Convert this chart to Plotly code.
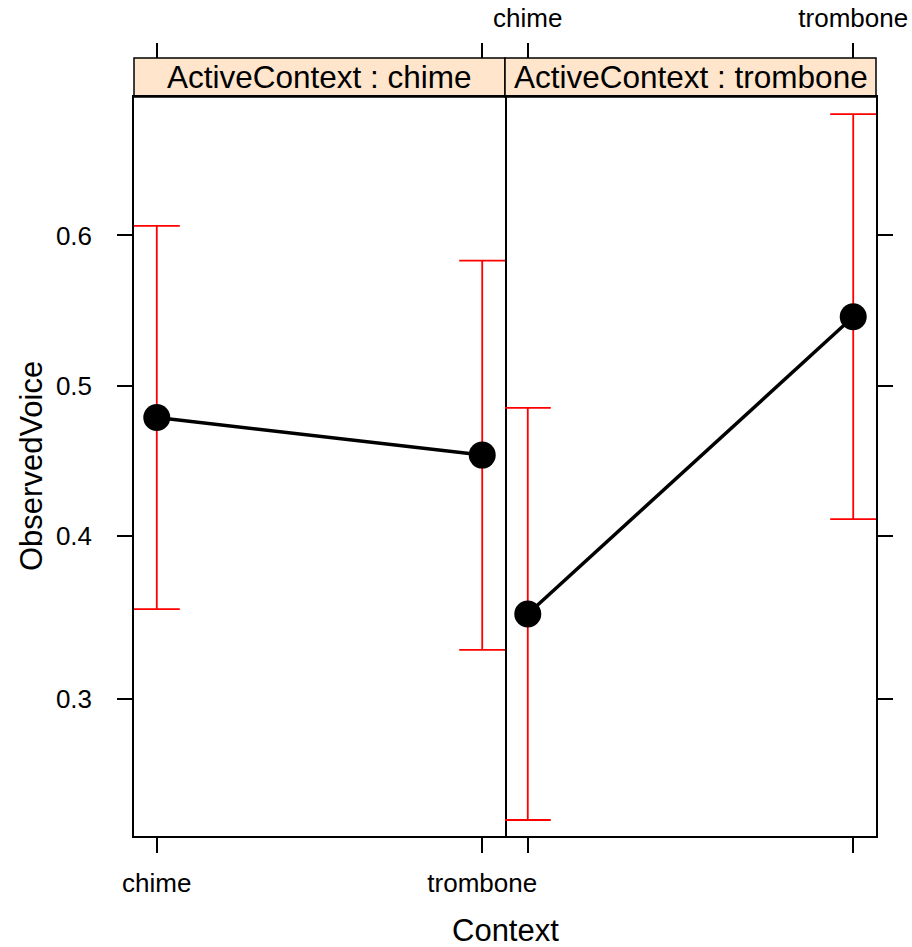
import numpy as np
import plotly.graph_objects as go

# Effect of Context on ObservedVoice, split by ActiveContext (fitted probabilities with 95% CIs)
contexts = ["chime", "trombone"]
active_levels = ["chime", "trombone"]

fit = {
    "chime":    [0.4785, 0.4532],
    "trombone": [0.3505, 0.5463],
}
lower = {
    "chime":    [0.3535, 0.3288],
    "trombone": [0.2363, 0.4108],
}
upper = {
    "chime":    [0.6062, 0.5835],
    "trombone": [0.4850, 0.6755],
}

y_ticks = [0.3, 0.4, 0.5, 0.6]
y_limits = [0.2286, 0.6855]


def logit(p):
    p = np.asarray(p, dtype=float)
    return np.log(p / (1 - p))


x_pos = [1, 2]
x_range = [1 - 0.07, 2 + 0.07]

FONT = "Liberation Sans, Arial, Helvetica, sans-serif"

fig = go.Figure()

for i, level in enumerate(active_levels):
    xa = "x" if i == 0 else "x2"
    ya = "y" if i == 0 else "y2"
    f = logit(fit[level])
    lo = logit(lower[level])
    hi = logit(upper[level])
    fig.add_trace(go.Scatter(
        x=x_pos, y=f, xaxis=xa, yaxis=ya,
        mode="lines+markers",
        line=dict(color="black", width=3.5),
        marker=dict(color="black", size=27),
        error_y=dict(type="data", symmetric=False,
                     array=hi - f, arrayminus=f - lo,
                     color="#FF0000", thickness=1.8, width=23),
        showlegend=False, hoverinfo="skip",
    ))

# empty traces to host the top tick axes
fig.add_trace(go.Scatter(x=[], y=[], xaxis="x3", yaxis="y", showlegend=False, hoverinfo="skip"))
fig.add_trace(go.Scatter(x=[], y=[], xaxis="x4", yaxis="y2", showlegend=False, hoverinfo="skip"))

ML, MR, MT, MB = 134, 36, 58, 111
W, H = 912, 947
ph = H - MT - MB
pw = W - ML - MR
ytop = (H - MB - 97) / ph

tick_common = dict(ticks="outside", ticklen=15, tickwidth=1.5, tickcolor="black",
                   showgrid=False, zeroline=False, automargin=False,
                   tickfont=dict(family=FONT, size=26, color="black"))

yv = logit(y_ticks).tolist()
ylim = logit(y_limits).tolist()

xcommon = dict(range=x_range, tickvals=x_pos, ticktext=contexts,
               showline=True, mirror=True, linecolor="black", linewidth=1.5, **tick_common)

fig.update_layout(
    width=W, height=H,
    margin=dict(l=ML, r=MR, t=MT, b=MB, pad=0, autoexpand=False),
    paper_bgcolor="white", plot_bgcolor="white",
    font=dict(family=FONT, color="black"),
    xaxis=dict(domain=[0, 0.5], anchor="y", side="bottom", showticklabels=True,
               ticklabelstandoff=8, **xcommon),
    xaxis2=dict(domain=[0.5, 1], anchor="y2", side="bottom", showticklabels=False, **xcommon),
    xaxis3=dict(overlaying="x", anchor="free", position=1, side="top",
                range=x_range, tickvals=x_pos, ticktext=contexts,
                showline=False, showticklabels=False, **tick_common),
    xaxis4=dict(overlaying="x2", anchor="free", position=1, side="top",
                range=x_range, tickvals=x_pos, ticktext=contexts,
                showline=False, showticklabels=True, ticklabelstandoff=6, **tick_common),
    yaxis=dict(domain=[0, ytop], anchor="x", side="left", range=ylim,
               tickvals=yv, ticktext=[str(v) for v in y_ticks],
               showline=True, mirror=True, linecolor="black", linewidth=1.5,
               ticklabelstandoff=20, **tick_common),
    yaxis2=dict(domain=[0, ytop], anchor="x2", side="right", range=ylim,
                tickvals=yv, ticktext=[str(v) for v in y_ticks], showticklabels=False,
                showline=True, mirror=False, linecolor="black", linewidth=1.5,
                **tick_common),
)

# strip labels above each panel
for i, level in enumerate(active_levels):
    x0, x1 = (0, 0.5) if i == 0 else (0.5, 1)
    fig.add_shape(type="rect", xref="paper", yref="paper",
                  x0=x0, x1=x1, y0=ytop, y1=1,
                  fillcolor="#FFE5CC", line=dict(color="black", width=1.5), layer="below")
    fig.add_annotation(xref="paper", yref="paper", x=(x0 + x1) / 2, y=(ytop + 1) / 2,
                       text=f"ActiveContext : {level}", showarrow=False,
                       xanchor="center", yanchor="middle",
                       font=dict(family=FONT, size=31.5, color="black"))

# axis titles
fig.add_annotation(xref="paper", yref="paper", x=0.5, y=(H - MB - 930) / ph,
                   text="Context", showarrow=False, xanchor="center", yanchor="middle",
                   font=dict(family=FONT, size=31, color="black"))
fig.add_annotation(xref="paper", yref="paper", x=(31 - ML) / pw, y=(H - MB - 466) / ph,
                   text="ObservedVoice", showarrow=False, textangle=-90,
                   xanchor="center", yanchor="middle",
                   font=dict(family=FONT, size=31, color="black"))

fig.write_html("out.html")
